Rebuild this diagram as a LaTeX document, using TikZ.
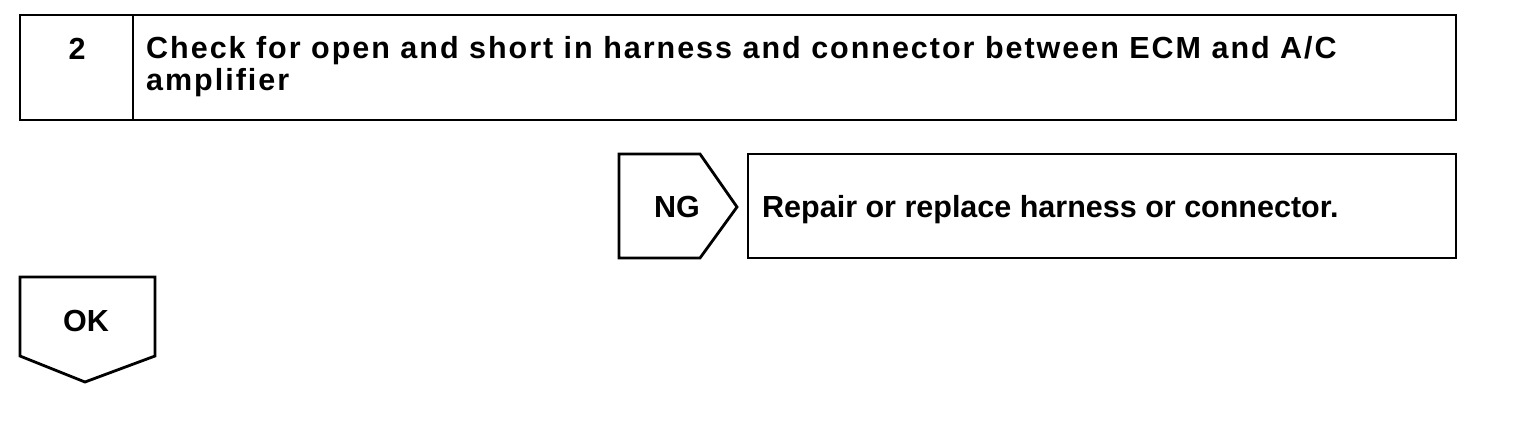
\documentclass[tikz,border=0pt]{standalone}
\usepackage{fontspec}
\setmainfont{Liberation Sans}
\begin{document}
\begin{tikzpicture}[x=1pt,y=-1pt,
  box/.style={draw,line width=2.8pt,line join=miter},
  lbl/.style={font=\fontsize{30.5}{32}\selectfont\bfseries,inner sep=0pt},
  wide/.style={lbl,font=\fontsize{30.5}{32}\selectfont\bfseries\addfontfeature{LetterSpace=6.5}}]
\useasboundingbox[fill=white] (0,0) rectangle (1520,440);
% header box
\draw[box] (20,15) rectangle (1456,120);
\draw[box] (133,15) -- (133,120);
\node[lbl,anchor=base] (num) at (77,59) {2};
\node[wide,anchor=base west] (title1) at (146,58) {Check for open and short in harness and connector between ECM and A/C};
\node[wide,anchor=base west] (title2) at (146,90) {amplifier};
% NG tab
\draw[box] (619,154) -- (700,154) -- (737,207) -- (700,258) -- (619,258) -- cycle;
\node[lbl,anchor=base] (ng) at (677,217) {NG};
% repair box
\draw[box] (748,154) rectangle (1456,258);
\node[lbl,anchor=base west] (repair) at (762,217) {Repair or replace harness or connector.};
% OK tab
\draw[box] (20,277) -- (155,277) -- (155,356) -- (85,382) -- (20,356) -- cycle;
\node[lbl,anchor=base] (ok) at (86,331) {OK};
\end{tikzpicture}
\end{document}
